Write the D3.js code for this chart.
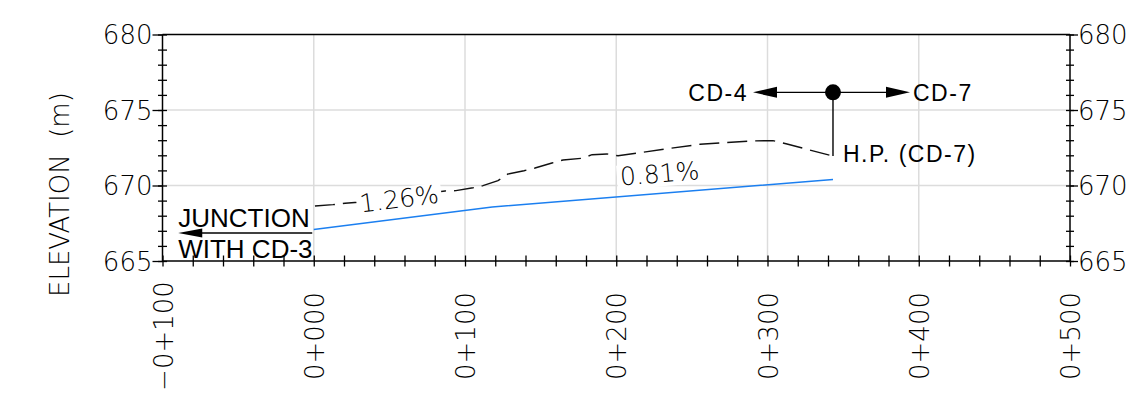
<!DOCTYPE html>
<html>
<head>
<meta charset="utf-8">
<script src="https://cdn.jsdelivr.net/npm/d3@7"></script>
<style>
  html, body { margin: 0; padding: 0; background: #fff; }
  svg { display: block; }
  .num { font-family: "DejaVu Sans", sans-serif; font-weight: 200; }
  .note { font-family: "Liberation Sans", Arial, sans-serif; }
</style>
</head>
<body>
<svg id="chart" width="1145" height="405"></svg>
<script>
// Profile along the drain: stations (m) and elevations (m)
const stationTicks = [-100, 0, 100, 200, 300, 400, 500];
const stationLabels = ["\u22120+100", "0+000", "0+100", "0+200", "0+300", "0+400", "0+500"];
const elevationTicks = [665, 670, 675, 680];

// Existing ground (dashed)
const groundSta  = [0.8, 12.7, 20.7, 29.3, 86.8, 94.0, 105.3, 111.9, 121.8, 128.4, 139.0, 146.3, 157.5, 164.8, 177.4, 184.0, 193.9, 201.2, 215.7, 235.5, 255.4, 270.6, 290.4, 303.6, 312.9, 326.1, 343.3];
const groundElev = [668.64, 668.73, 668.82, 668.89, 669.64, 669.66, 669.85, 669.99, 670.32, 670.76, 670.98, 671.16, 671.49, 671.69, 671.80, 672.04, 672.09, 671.97, 672.17, 672.46, 672.73, 672.83, 672.95, 672.97, 672.75, 672.40, 671.95];

// Design invert: start point and grade segments (grade in %)
const designStart = { sta: 0, elev: 667.09 };
const gradeEndSta = [118, 343.3];
const gradePct    = [1.26, 0.81];
const gradeLabelSta = [58, 229.7];

// High point annotation (station / elevation of the flow-split symbol)
const hpSta = 343.3;
const hpSymbolElev = 676.17;
const flowLabels = ["CD-4", "CD-7"];
const flowTipSta = [290.4, 394.2];
const flowLabelSta = [287.1, 396.2];
const flowLabelElev = 675.6;
const hpLabel = "H.P. (CD-7)";
const hpLabelPos = { sta: 349.9, elev: 671.56 };

// Junction note
const junctionLines = ["JUNCTION", "WITH CD-3"];
const junctionSta = [-89.6, -1];
const junctionElev = [667.25, 666.85, 665.17]; // first line, leader, second line

const svg = d3.select("#chart");
const x = d3.scaleLinear().domain([-100, 500]).range([162.5, 1070]);
const y = d3.scaleLinear().domain([665, 680]).range([261, 34.5]);

// design vertices built from the stated grades
const design = [designStart];
gradeEndSta.forEach((s, i) => {
  const prev = design[design.length - 1];
  design.push({ sta: s, elev: prev.elev + (s - prev.sta) * gradePct[i] / 100 });
});

// ---- grid
const grid = svg.append("g").attr("stroke", "#dcdcdc").attr("stroke-width", 1.5);
grid.selectAll("line.v").data(stationTicks.slice(1, -1)).join("line")
  .attr("x1", d => x(d)).attr("x2", d => x(d)).attr("y1", y(680)).attr("y2", y(665));
grid.selectAll("line.h").data([670, 675]).join("line")
  .attr("x1", x(-100)).attr("x2", x(500)).attr("y1", d => y(d)).attr("y2", d => y(d));

// ---- design line (blue)
const line = d3.line().x(d => x(d.sta)).y(d => y(d.elev));
svg.append("path").datum(design).attr("d", line)
  .attr("fill", "none").attr("stroke", "#1b7ff0").attr("stroke-width", 1.4);

// ---- existing ground (dashed)
const ground = groundSta.map((s, i) => ({ sta: s, elev: groundElev[i] }));
svg.append("path").datum(ground).attr("d", line)
  .attr("fill", "none").attr("stroke", "#111").attr("stroke-width", 1.4)
  .attr("stroke-dasharray", "20,8");

// ---- grade labels with white backing, rotated along the segment
gradePct.forEach((g, i) => {
  const a = design[i], b = design[i + 1];
  const ang = Math.atan2(y(b.elev) - y(a.elev), x(b.sta) - x(a.sta)) * 180 / Math.PI;
  const s = gradeLabelSta[i];
  const e = a.elev + (s - a.sta) * g / 100;
  const gg = svg.append("g")
    .attr("transform", `translate(${x(s)},${y(e)}) rotate(${ang}) translate(0,-11)`);
  const t = gg.append("text").attr("class", "num")
    .attr("text-anchor", "middle").attr("font-size", 25)
    .text(g.toFixed(2) + "%");
  const bb = t.node().getBBox();
  gg.insert("rect", "text").attr("x", bb.x - 3).attr("y", bb.y + 3)
    .attr("width", bb.width + 6).attr("height", bb.height - 5).attr("fill", "#fff");
});

// ---- high point flow-split symbol
const hx = x(hpSta), hy = y(hpSymbolElev);
const groundEnd = ground[ground.length - 1];
svg.append("line").attr("x1", hx).attr("x2", hx).attr("y1", hy).attr("y2", y(groundEnd.elev))
  .attr("stroke", "#000").attr("stroke-width", 1.4);
flowTipSta.forEach((s, i) => {
  const tx = x(s), dir = tx < hx ? 1 : -1;
  svg.append("line").attr("x1", hx).attr("x2", tx + dir * 10).attr("y1", hy).attr("y2", hy)
    .attr("stroke", "#000").attr("stroke-width", 1.4);
  svg.append("path")
    .attr("d", `M${tx},${hy}L${tx + dir * 24},${hy - 5.5}L${tx + dir * 24},${hy + 5.5}Z`)
    .attr("fill", "#000");
  svg.append("text").attr("class", "note")
    .attr("x", x(flowLabelSta[i])).attr("y", y(flowLabelElev))
    .attr("text-anchor", i === 0 ? "end" : "start")
    .attr("font-size", 23).attr("letter-spacing", 1.5)
    .text(flowLabels[i]);
});
svg.append("circle").attr("cx", hx).attr("cy", hy).attr("r", 8).attr("fill", "#000");
svg.append("text").attr("class", "note")
  .attr("x", x(hpLabelPos.sta)).attr("y", y(hpLabelPos.elev))
  .attr("font-size", 23).attr("letter-spacing", 1.5)
  .text(hpLabel);

// ---- junction note
svg.append("text").attr("class", "note")
  .attr("x", x(junctionSta[0])).attr("y", y(junctionElev[0]))
  .attr("font-size", 26).text(junctionLines[0]);
svg.append("text").attr("class", "note")
  .attr("x", x(junctionSta[0])).attr("y", y(junctionElev[2]))
  .attr("font-size", 26).text(junctionLines[1]);
const jx0 = x(junctionSta[0]), jx1 = x(junctionSta[1]), jy = y(junctionElev[1]);
svg.append("line").attr("x1", jx0 + 10).attr("x2", jx1).attr("y1", jy).attr("y2", jy)
  .attr("stroke", "#000").attr("stroke-width", 1.5);
svg.append("path")
  .attr("d", `M${jx0},${jy}L${jx0 + 24},${jy - 4.5}L${jx0 + 24},${jy + 4.5}Z`)
  .attr("fill", "#000");

// ---- frame
svg.append("line").attr("x1", x(-100)).attr("x2", x(500)).attr("y1", y(680)).attr("y2", y(680))
  .attr("stroke", "#000").attr("stroke-width", 1.5);

// ---- bottom axis: crossing ticks every 20 m
const xMinor = svg.append("g").attr("transform", `translate(0,${y(665)})`)
  .call(d3.axisBottom(x).tickValues(d3.range(-100, 501, 20)).tickSize(5).tickFormat(""));
xMinor.select(".domain").attr("stroke-width", 1.5).attr("d", `M${x(-100)},0H${x(500)}`);
xMinor.selectAll(".tick line").attr("y1", -5.5).attr("y2", 5.5).attr("stroke-width", 1.3);

const xLab = svg.append("g").attr("transform", `translate(0,${y(665)})`)
  .call(d3.axisBottom(x).tickValues(stationTicks).tickSize(0)
    .tickFormat((d, i) => stationLabels[i]));
xLab.select(".domain").remove();
xLab.selectAll(".tick text")
  .attr("class", "num").attr("font-size", 26).attr("fill", "#000")
  .attr("text-anchor", "middle").attr("transform", "rotate(-90)")
  .attr("x", -75).attr("y", 9.5).attr("dy", 0);

// ---- left axis
const yMinor = svg.append("g").attr("transform", `translate(${x(-100)},0)`)
  .call(d3.axisLeft(y).tickValues(d3.range(665, 681, 1)).tickSize(4.5).tickFormat(""));
yMinor.select(".domain").attr("stroke-width", 1.5).attr("d", `M0,${y(665)}V${y(680)}`);
yMinor.selectAll(".tick line").attr("x1", 4.5).attr("stroke-width", 1.3);
const yLeft = svg.append("g").attr("transform", `translate(${x(-100)},0)`)
  .call(d3.axisLeft(y).tickValues(elevationTicks).tickSize(10).tickPadding(0));
yLeft.select(".domain").remove();
yLeft.selectAll(".tick line").attr("stroke-width", 1.3);
yLeft.selectAll(".tick text").attr("class", "num").attr("font-size", 26)
  .attr("fill", "#000").attr("dy", "0.36em");

// ---- right axis
const yMinorR = svg.append("g").attr("transform", `translate(${x(500)},0)`)
  .call(d3.axisRight(y).tickValues(d3.range(665, 681, 1)).tickSize(4).tickFormat(""));
yMinorR.select(".domain").attr("stroke-width", 1.5).attr("d", `M0,${y(665)}V${y(680)}`);
yMinorR.selectAll(".tick line").attr("x1", -4).attr("stroke-width", 1.3);
const yRight = svg.append("g").attr("transform", `translate(${x(500)},0)`)
  .call(d3.axisRight(y).tickValues(elevationTicks).tickSize(8).tickPadding(0));
yRight.select(".domain").remove();
yRight.selectAll(".tick line").attr("stroke-width", 1.3);
yRight.selectAll(".tick text").attr("class", "num").attr("font-size", 26)
  .attr("fill", "#000").attr("dy", "0.36em");

// ---- axis title
svg.append("text").attr("class", "num")
  .attr("transform", `translate(68.5,297) rotate(-90)`)
  .attr("font-size", 26).attr("fill", "#000")
  .style("white-space", "pre")
  .text("ELEVATION  (m)");
</script>
</body>
</html>
